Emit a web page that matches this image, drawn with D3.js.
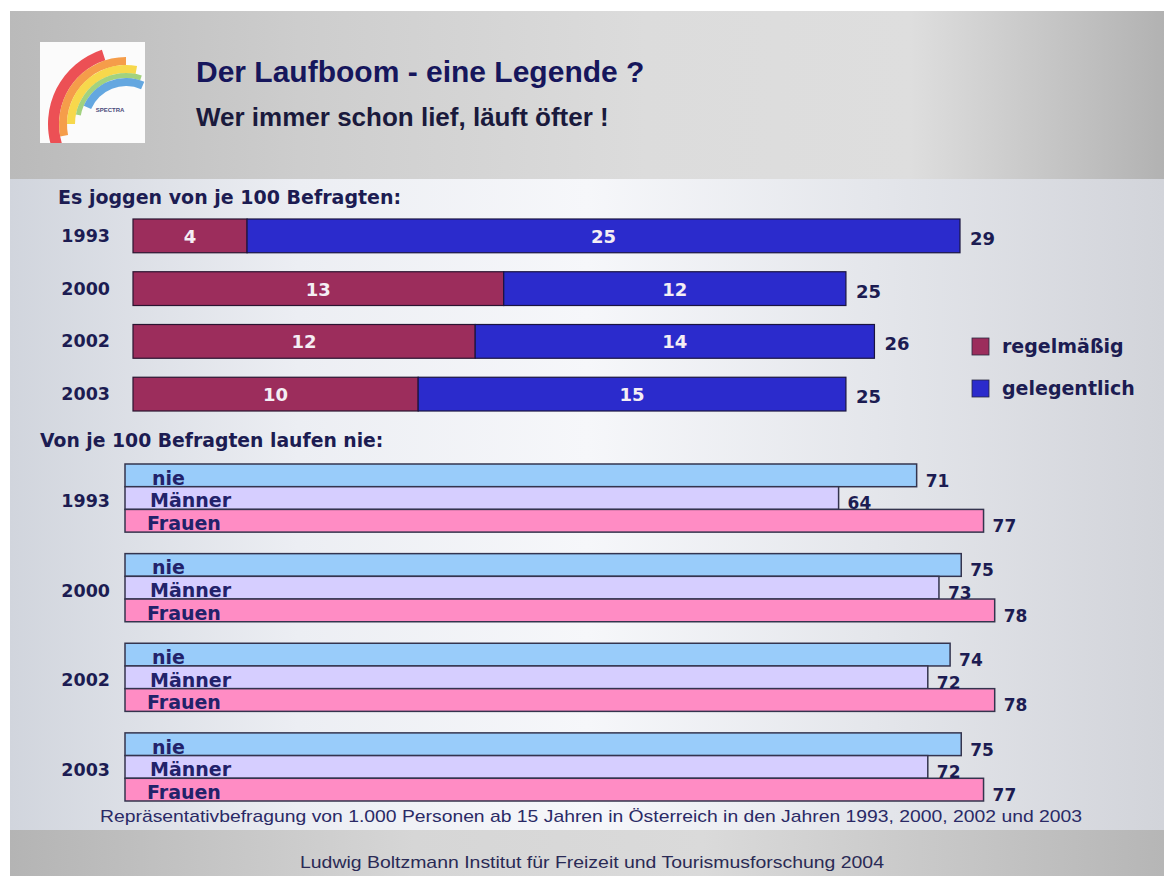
<!DOCTYPE html>
<html>
<head>
<meta charset="utf-8">
<script src="https://cdn.jsdelivr.net/npm/d3@7"></script>
<style>
  body { margin: 0; background: #fff; }
  svg { display: block; }
</style>
</head>
<body>
<div id="chart"></div>
<script>
// Top chart: joggers per 100 respondents
const years = ["1993", "2000", "2002", "2003"];
const regelmaessig = [4, 13, 12, 10];
const gelegentlich = [25, 12, 14, 15];
const totals = [29, 25, 26, 25];

// Bottom chart: never running, per 100 respondents
const groups = ["nie", "Männer", "Frauen"];
const nie = [71, 75, 74, 75];
const maenner = [64, 73, 72, 72];
const frauen = [77, 78, 78, 77];

const legendLabels = ["regelmäßig", "gelegentlich"];

const W = 1164, H = 876;
const navy = "#1c1c52";
const font = "'DejaVu Sans', Verdana, sans-serif";
const arial = "'Liberation Sans', Arial, sans-serif";

const svg = d3.select("#chart")
    .append("svg")
    .attr("width", W)
    .attr("height", H);

const defs = svg.append("defs");

// gray header/footer gradient
const gHead = defs.append("linearGradient").attr("id", "head");
[["0%", "#bababa"], ["25%", "#cdcdcd"], ["55%", "#dcdcdc"], ["78%", "#dedede"], ["100%", "#b2b2b2"]]
    .forEach(([o, c]) => gHead.append("stop").attr("offset", o).attr("stop-color", c));

const gBody = defs.append("linearGradient").attr("id", "body");
[["0%", "#d1d5dd"], ["25%", "#eceef3"], ["50%", "#f6f7fa"], ["75%", "#e4e6eb"], ["100%", "#d2d4da"]]
    .forEach(([o, c]) => gBody.append("stop").attr("offset", o).attr("stop-color", c));

const gFoot = defs.append("linearGradient").attr("id", "foot");
[["0%", "#b4b4b4"], ["35%", "#d6d6d6"], ["60%", "#dadada"], ["100%", "#b6b6b6"]]
    .forEach(([o, c]) => gFoot.append("stop").attr("offset", o).attr("stop-color", c));

// slide background
svg.append("rect").attr("x", 10).attr("y", 11).attr("width", W - 10).attr("height", 168).attr("fill", "url(#head)");
svg.append("rect").attr("x", 10).attr("y", 179).attr("width", W - 10).attr("height", 651).attr("fill", "url(#body)");
svg.append("rect").attr("x", 10).attr("y", 830).attr("width", W - 10).attr("height", 46).attr("fill", "url(#foot)");

// logo
defs.append("clipPath").attr("id", "logoClip")
    .append("rect").attr("x", 40).attr("y", 42).attr("width", 105).attr("height", 101);
const logo = svg.append("g");
logo.append("rect").attr("x", 40).attr("y", 42).attr("width", 105).attr("height", 101).attr("fill", "#fbfbfb");
const rainbow = [
    { r0: 67, r1: 78, a0: -0.6, a1: -0.1, c: "#e8262c" },
    { r0: 59, r1: 67, a0: -0.56, a1: 0.0, c: "#f4861e" },
    { r0: 51, r1: 59, a0: -0.5, a1: 0.06, c: "#f6d020" },
    { r0: 46, r1: 51, a0: -0.44, a1: 0.1, c: "#8cc860" },
    { r0: 38, r1: 46, a0: -0.37, a1: 0.13, c: "#3f92da" }
];
const arcGen = d3.arc();
logo.append("g")
    .attr("clip-path", "url(#logoClip)")
    .append("g")
    .attr("transform", "translate(126,124)")
    .selectAll("path")
    .data(rainbow)
    .join("path")
    .attr("fill", d => d.c)
    .attr("opacity", 0.8)
    .attr("d", d => arcGen({ innerRadius: d.r0, outerRadius: d.r1, startAngle: d.a0 * Math.PI, endAngle: d.a1 * Math.PI }));
logo.append("text")
    .attr("x", 110).attr("y", 112)
    .attr("text-anchor", "middle")
    .attr("font-family", arial)
    .attr("font-size", 6)
    .attr("font-weight", "bold")
    .attr("fill", "#4a4a7a")
    .text("SPECTRA");

// titles
svg.append("text")
    .attr("x", 196).attr("y", 82)
    .attr("font-family", arial)
    .attr("font-weight", "bold")
    .attr("font-size", 30)
    .attr("fill", "#16165c")
    .text("Der Laufboom - eine Legende ?");

svg.append("text")
    .attr("x", 196).attr("y", 126)
    .attr("font-family", arial)
    .attr("font-weight", "bold")
    .attr("font-size", 26)
    .attr("fill", "#1a1a3c")
    .text("Wer immer schon lief, läuft öfter !");

// ---------- top chart ----------
svg.append("text")
    .attr("x", 58).attr("y", 204)
    .attr("font-family", font)
    .attr("font-weight", "bold")
    .attr("font-size", 19)
    .attr("fill", navy)
    .text("Es joggen von je 100 Befragten:");

const xTop = d3.scaleLinear()
    .domain([0, d3.max(totals)])
    .range([133, 960]);

const yTop = d3.scaleBand()
    .domain(years)
    .range([219, 411])
    .paddingInner(0.36);

const topColor = d3.scaleOrdinal()
    .domain(legendLabels)
    .range(["#9c2d5c", "#2b2bcc"]);

const topRows = years.map((y, i) => ({ year: y, reg: regelmaessig[i], gel: gelegentlich[i], total: totals[i] }));

const topG = svg.append("g");

topG.selectAll(".reg")
    .data(topRows)
    .join("rect")
    .attr("x", xTop(0))
    .attr("y", d => yTop(d.year))
    .attr("width", d => xTop(d.reg) - xTop(0))
    .attr("height", yTop.bandwidth())
    .attr("fill", topColor("regelmäßig"))
    .attr("stroke", "#2a1430")
    .attr("stroke-width", 1.2);

topG.selectAll(".gel")
    .data(topRows)
    .join("rect")
    .attr("x", d => xTop(d.reg))
    .attr("y", d => yTop(d.year))
    .attr("width", d => xTop(d.reg + d.gel) - xTop(d.reg))
    .attr("height", yTop.bandwidth())
    .attr("fill", topColor("gelegentlich"))
    .attr("stroke", "#1a1440")
    .attr("stroke-width", 1.2);

// values inside bars
const inLabels = [];
topRows.forEach(d => {
    inLabels.push({ year: d.year, v: d.reg, x: (xTop(0) + xTop(d.reg)) / 2 });
    inLabels.push({ year: d.year, v: d.gel, x: (xTop(d.reg) + xTop(d.reg + d.gel)) / 2 });
});
topG.selectAll(".inlab")
    .data(inLabels)
    .join("text")
    .attr("x", d => d.x)
    .attr("y", d => yTop(d.year) + yTop.bandwidth() / 2 + 7)
    .attr("text-anchor", "middle")
    .attr("font-family", font)
    .attr("font-weight", "bold")
    .attr("font-size", 18)
    .attr("fill", "#f4eef4")
    .text(d => d.v);

topG.selectAll(".tot")
    .data(topRows)
    .join("text")
    .attr("x", d => xTop(d.total) + 10)
    .attr("y", d => yTop(d.year) + yTop.bandwidth() / 2 + 9)
    .attr("font-family", font)
    .attr("font-weight", "bold")
    .attr("font-size", 18)
    .attr("fill", navy)
    .text(d => d.total);

topG.selectAll(".year")
    .data(years)
    .join("text")
    .attr("x", 110)
    .attr("y", d => yTop(d) + yTop.bandwidth() / 2 + 6)
    .attr("text-anchor", "end")
    .attr("font-family", font)
    .attr("font-weight", "bold")
    .attr("font-size", 17.5)
    .attr("fill", navy)
    .text(d => d);

// legend
const legend = svg.append("g")
    .selectAll("g")
    .data(legendLabels)
    .join("g")
    .attr("transform", (d, i) => `translate(972,${338 + i * 42})`);
legend.append("rect")
    .attr("width", 17).attr("height", 17)
    .attr("fill", d => topColor(d))
    .attr("stroke", "#2a2a40")
    .attr("stroke-width", 0.8);
legend.append("text")
    .attr("x", 30).attr("y", 15)
    .attr("font-family", font)
    .attr("font-weight", "bold")
    .attr("font-size", 19)
    .attr("fill", navy)
    .text(d => d);

// ---------- bottom chart ----------
svg.append("text")
    .attr("x", 40).attr("y", 447)
    .attr("font-family", font)
    .attr("font-weight", "bold")
    .attr("font-size", 18.8)
    .attr("fill", navy)
    .text("Von je 100 Befragten laufen nie:");

const xBot = d3.scaleLinear()
    .domain([0, 100])
    .range([125, 1240]);

const yBot = d3.scaleBand()
    .domain(years)
    .range([464, 801])
    .paddingInner(0.24);

const ySub = d3.scaleBand()
    .domain(groups)
    .range([0, yBot.bandwidth()]);

const botColor = d3.scaleOrdinal()
    .domain(groups)
    .range(["#99ccfa", "#d6ceff", "#ff8cc4"]);

const labelX = { "nie": 152, "Männer": 150, "Frauen": 147 };

const botRows = [];
years.forEach((y, i) => {
    [nie[i], maenner[i], frauen[i]].forEach((v, j) => botRows.push({ year: y, grp: groups[j], v }));
});

const botG = svg.append("g");

botG.selectAll(".bbar")
    .data(botRows)
    .join("rect")
    .attr("x", xBot(0))
    .attr("y", d => yBot(d.year) + ySub(d.grp))
    .attr("width", d => xBot(d.v) - xBot(0))
    .attr("height", ySub.bandwidth())
    .attr("fill", d => botColor(d.grp))
    .attr("stroke", "#34344e")
    .attr("stroke-width", 1.5);

botG.selectAll(".blab")
    .data(botRows)
    .join("text")
    .attr("x", d => labelX[d.grp])
    .attr("y", d => yBot(d.year) + ySub(d.grp) + ySub.bandwidth() - 2)
    .attr("font-family", font)
    .attr("font-weight", "bold")
    .attr("font-size", 19)
    .attr("fill", "#22226a")
    .text(d => d.grp);

botG.selectAll(".bval")
    .data(botRows)
    .join("text")
    .attr("x", d => xBot(d.v) + 9)
    .attr("y", d => yBot(d.year) + ySub(d.grp) + ySub.bandwidth())
    .attr("font-family", font)
    .attr("font-weight", "bold")
    .attr("font-size", 17)
    .attr("fill", navy)
    .text(d => d.v);

botG.selectAll(".byear")
    .data(years)
    .join("text")
    .attr("x", 110)
    .attr("y", d => yBot(d) + yBot.bandwidth() / 2 + 9)
    .attr("text-anchor", "end")
    .attr("font-family", font)
    .attr("font-weight", "bold")
    .attr("font-size", 17.5)
    .attr("fill", navy)
    .text(d => d);

// notes
svg.append("text")
    .attr("x", 100).attr("y", 822)
    .attr("font-family", arial)
    .attr("font-size", 17)
    .attr("textLength", 982)
    .attr("lengthAdjust", "spacingAndGlyphs")
    .attr("fill", "#2a2a66")
    .text("Repräsentativbefragung von 1.000 Personen ab 15 Jahren in Österreich in den Jahren 1993, 2000, 2002 und 2003");

svg.append("text")
    .attr("x", 300).attr("y", 868)
    .attr("font-family", arial)
    .attr("font-size", 17)
    .attr("textLength", 584)
    .attr("lengthAdjust", "spacingAndGlyphs")
    .attr("fill", "#2a2a55")
    .text("Ludwig Boltzmann Institut für Freizeit und Tourismusforschung 2004");
</script>
</body>
</html>
